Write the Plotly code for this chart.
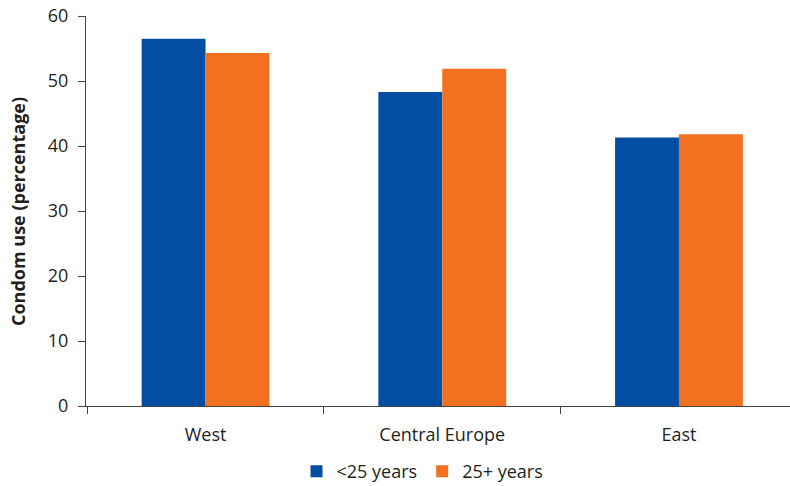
import plotly.graph_objects as go

categories = ["West", "Central Europe", "East"]
under25 = [56.5, 48.3, 41.3]
over25 = [54.3, 51.9, 41.8]
series_names = ["<25 years", "25+ years"]
y_ticks = [0, 10, 20, 30, 40, 50, 60]
y_title = "Condom use (percentage)"

BLUE = "#034EA2"
ORANGE = "#F37021"
TEXT = "#231F20"
AXIS = "#444444"
FONT = "Open Sans"
FS = 18

fig = go.Figure()
fig.add_trace(go.Bar(x=categories, y=under25, name=series_names[0], marker_color=BLUE, marker_line_width=0))
fig.add_trace(go.Bar(x=categories, y=over25, name=series_names[1], marker_color=ORANGE, marker_line_width=0))

fig.update_layout(
    width=790, height=486,
    margin=dict(l=86, r=0, t=16, b=80, autoexpand=False),
    paper_bgcolor="white", plot_bgcolor="white",
    barmode="group", bargap=0.46, bargroupgap=0,
    font=dict(family=FONT, size=FS, color=TEXT),
    showlegend=True,
    legend=dict(orientation="h", x=0.478, xanchor="center", y=-0.168, yanchor="middle",
                font=dict(size=FS, color=TEXT), itemwidth=30, traceorder="normal"),
    annotations=[dict(text="<b>" + y_title + "</b>", xref="paper", yref="paper",
                      x=-0.0966, y=0.5, xanchor="center", yanchor="middle",
                      textangle=-90, showarrow=False, font=dict(size=FS, color=TEXT))],
)
fig.update_xaxes(
    range=[-0.505, 2.469], automargin=False,
    showline=True, linecolor=AXIS, linewidth=1,
    ticks="outside", tickson="boundaries", ticklen=7, tickcolor=AXIS,
    showgrid=False, zeroline=False,
    tickfont=dict(size=FS, color=TEXT), ticklabelstandoff=12,
)
fig.update_yaxes(
    range=[0, 60], tickvals=y_ticks, automargin=False,
    showline=True, linecolor=AXIS, linewidth=1,
    ticks="outside", ticklen=7, tickcolor=AXIS,
    showgrid=False, zeroline=False,
    tickfont=dict(size=FS, color=TEXT), ticklabelstandoff=6,
)

fig.write_html("out.html", config={"displayModeBar": False},
               post_script="document.body.style.margin='0';document.body.style.overflow='hidden';")
